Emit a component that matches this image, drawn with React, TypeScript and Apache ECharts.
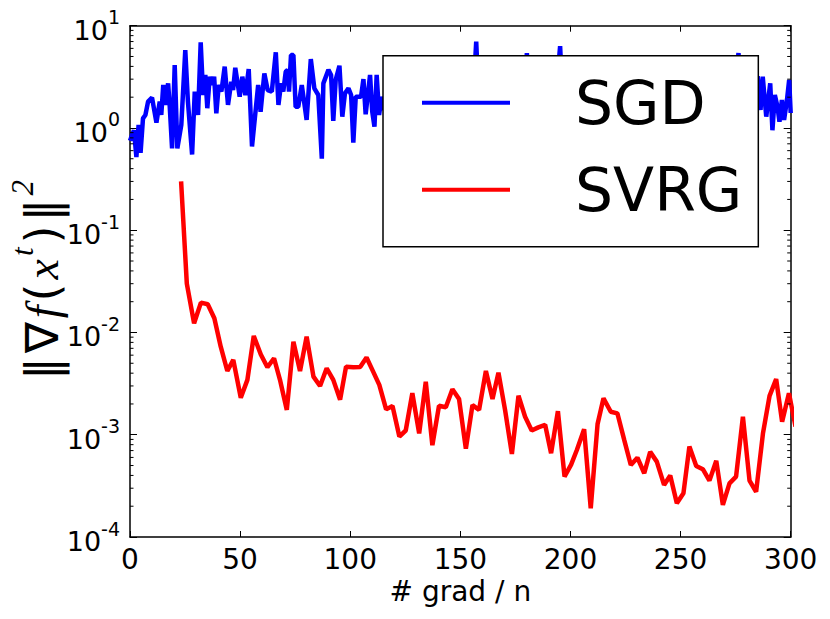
import React, { useEffect, useRef } from "react";
import * as echarts from "echarts";

// ---- data ----
const X_MIN = 0;
const X_MAX = 300;
const X_TICK_STEP = 50;
const Y_MIN = 1e-4;
const Y_MAX = 10;

const seriesNames = ["SGD", "SVRG"];
const seriesColors = ["#0000ff", "#ff0000"];

const sgdX = [
  0, 0.9, 1.8, 2.9, 3.9, 4.8, 5.9, 7.0, 8.2, 10, 12, 13.5, 14.2, 15.1, 16, 17.3, 18, 19.1, 20.3, 21.5,
  23.3, 25.1, 26.3, 28.2, 29.4, 30.9, 32.1, 33.2, 34.2, 35.1, 36.2, 37.2, 38.2, 39.2, 40.3, 41.5, 43,
  44.5, 46, 46.8, 47.8, 49.8, 51, 52.4, 53.9, 55.4, 58.2, 59.3, 61, 62.5, 64.4, 66.2, 67.4, 68.6, 69.6,
  70.7, 71.6, 72.2, 73.1, 74.2, 75.2, 76.4, 78, 80.2, 82.1, 83.7, 85.5, 87.1, 87.8, 90.1, 91.3, 92.3,
  93.4, 95.1, 96.4, 97.6, 99.2, 100.4, 101.4, 102.5, 104.9, 106, 107, 109, 110, 111, 112, 113.1, 114.3,
  115.5, 117, 118.5, 120, 121.5, 123, 124.5, 126, 127.5, 129, 130.5, 132, 133.5, 135, 136.5, 138,
  139.5, 141, 142.5, 144, 145.5, 147, 148.5, 150, 151.5, 153, 154.5, 156, 157.2, 158.5, 160, 161.5,
  163, 164.5, 166, 167.5, 169, 170.5, 172, 173.5, 175, 176.5, 178, 179, 180.2, 181.5, 183, 184.5, 186,
  187.5, 189, 190.5, 192, 193.5, 195.3, 196.5, 198, 199.5, 201, 202.5, 204, 205.5, 207, 208.5, 210,
  211.5, 213, 214.5, 216, 217.5, 219, 220.5, 222, 223.5, 225, 226.5, 228, 229.5, 231, 232.5, 234,
  235.5, 237, 238.5, 240, 241.5, 243, 244.5, 246, 247.5, 249, 250.5, 252, 253.5, 255, 256.5, 258,
  259.5, 261, 262.5, 264, 265.5, 267, 268.5, 270, 271.5, 273, 274.5, 276.3, 277.5, 279, 280.5, 282,
  283.5, 285, 286.3, 287.3, 288.9, 290.7, 291.7, 292.8, 294, 294.9, 296, 297, 298.3, 299.3, 300,
];
const sgdY = [
  0.75, 0.85, 0.95, 0.52, 1.07, 0.57, 1.24, 1.34, 1.81, 1.98, 1.13, 1.81, 1.34, 2.63, 1.68, 2.73, 1.68,
  0.63, 4.13, 0.63, 1.07, 5.78, 1.81, 0.55, 2.27, 1.34, 6.88, 2.1, 3.3, 1.56, 3.17, 2.63, 3.17, 1.39,
  2.63, 2.27, 3.98, 1.68, 2.83, 2.35, 3.88, 2.02, 3.17, 2.1, 3.77, 0.66, 2.63, 1.44, 3.42, 2.35, 2.27,
  5.5, 1.68, 2.73, 2.27, 3.55, 3.7, 2.27, 5.17, 5.17, 1.61, 1.61, 2.63, 1.2, 4.72, 2.44, 2.1, 0.5,
  2.73, 3.7, 3.3, 1.17, 2.95, 4.06, 1.29, 2.18, 2.44, 2.1, 0.72, 2.02, 2.02, 3.0, 1.36, 3.3, 1.44,
  1.03, 3.3, 1.34, 2.02,
  1.5, 2.6, 1.2, 2.2, 3.1, 1.6, 2.4, 1.1, 2.8, 2.0, 3.4, 1.4, 2.2, 1.8, 3.0, 1.3, 2.5, 0.9, 2.1, 3.2,
  1.7, 2.4, 1.2, 2.9, 1.9, 3.3, 1.5, 2.3, 7.0, 1.6, 2.6, 1.3, 2.2, 3.5, 1.8, 2.4, 1.0, 2.7, 1.6, 3.0,
  2.1, 1.4, 2.5, 1.7, 5.4, 1.9, 2.8, 1.2, 2.3, 3.4, 1.5, 2.6, 1.1, 2.2, 6.3, 1.8, 2.9, 1.4, 2.0, 3.1,
  1.6, 2.5, 0.8, 2.3, 3.6, 1.7, 2.4, 1.3, 2.8, 2.0, 3.2, 1.5, 2.2, 1.0, 2.6, 3.3, 1.8, 2.4, 1.2, 2.9,
  1.6, 3.0, 2.1, 1.4, 2.7, 1.1, 2.3, 3.5, 1.7, 2.5, 1.3, 2.0, 3.1, 1.5, 2.6, 0.9, 2.2, 3.0, 1.8, 2.4,
  1.2, 2.8, 2.0, 3.4, 1.4, 2.3, 1.7, 2.5, 5.4, 1.6, 2.4, 1.1, 2.7, 1.9, 3.2, 1.5,
  3.17, 1.29, 2.73, 0.95, 2.1, 1.61, 1.15, 1.88, 1.2, 1.88, 2.95, 1.4,
];

const svrgX = [
  23.2, 25.8, 29.1, 32.2, 35.3, 38.3, 41.2, 44.2, 46.9, 50.3, 53.3, 56.2, 59.4, 62.4, 65.4, 68.1, 71.2,
  74.2, 77.2, 80.2, 83.3, 86.3, 89.3, 92.3, 95.4, 98.1, 101.4, 104.5, 107.4, 110.2, 113.2, 116.3,
  119.2, 122.3, 125.2, 128.2, 131.3, 134.3, 137.3, 140.3, 143.4, 146.4, 149.4, 152.5, 155.5, 158.5,
  161.6, 164.6, 167.3, 170.3, 173.4, 176.4, 179.4, 182.4, 185.4, 188.5, 191.2, 194.3, 197.3, 200.3,
  202.9, 206.2, 209.2, 212.3, 215, 218.3, 221.3, 224.4, 227.4, 230.4, 233.5, 236.2, 239.2, 242.5,
  245.3, 248.3, 251.3, 254, 257.1, 260.1, 263.1, 266.2, 269.2, 272.2, 275.2, 278.3, 281.3, 284.3,
  287.4, 290.4, 293.4, 296.1, 299.2, 302.2,
];
const svrgY = [
  0.3, 0.03, 0.0123, 0.0196, 0.0189, 0.0138, 0.00727, 0.0042, 0.0054, 0.0023, 0.00344, 0.00925, 0.0061,
  0.00457, 0.0056, 0.00344, 0.00175, 0.0081, 0.0042, 0.0091, 0.0037, 0.003, 0.00447, 0.00344, 0.0022,
  0.00463, 0.00457, 0.0046, 0.0057, 0.00424, 0.00307, 0.00177, 0.00191, 0.00096, 0.0011, 0.00255,
  0.00103, 0.0033, 0.00079, 0.00192, 0.00186, 0.00279, 0.00224, 0.00073, 0.00195, 0.00175, 0.0042,
  0.00224, 0.00405, 0.00175, 0.00065, 0.00241, 0.0015, 0.0011, 0.00118, 0.00125, 0.00066, 0.0017,
  0.00039, 0.00051, 0.00071, 0.00113, 0.000191, 0.00127, 0.00227, 0.00168, 0.00162, 0.00089, 0.000506,
  0.000597, 0.00042, 0.00068, 0.000546, 0.000323, 0.0004, 0.000214, 0.000268, 0.000766, 0.000495,
  0.00046, 0.000356, 0.000557, 0.000206, 0.000335, 0.00039, 0.0015, 0.000356, 0.000277, 0.00103,
  0.0024, 0.0035, 0.00134, 0.00255, 0.0012,
];

// minor tick positions of the log axis: mantissa x 10^decade
const minorMantissas = [2, 3, 4, 5, 6, 7, 8, 9];
const minorDecades = [-4, -3, -2, -1, 0];

const xAxisTitle = "# grad / n";

const FONT = "DejaVu Sans";

export default function App() {
  const ref = useRef<HTMLDivElement>(null);

  useEffect(() => {
    if (!ref.current) return;
    const chart = echarts.init(ref.current, undefined, { renderer: "svg" });

    const minorTicks: number[][] = [];
    minorDecades.forEach((d) =>
      minorMantissas.forEach((m) => minorTicks.push([X_MIN, m * Math.pow(10, d)]))
    );

    const sgd = sgdX.map((x, i) => [x, sgdY[i]]);
    const svrg = svrgX.map((x, i) => [x, svrgY[i]]);

    const axisLine = { show: true, onZero: false, lineStyle: { color: "#000", width: 1.5 } };

    const mathBase = {
      fontSize: 46,
      lineHeight: 58,
      verticalAlign: "bottom",
      color: "#000",
      padding: [0, 2, 0, 2],
    };

    const option: any = {
      animation: false,
      backgroundColor: "#fff",
      grid: { left: 130, right: 39.3, top: 25.7, bottom: 82, containLabel: false },
      xAxis: [
        {
          type: "value",
          min: X_MIN,
          max: X_MAX,
          interval: X_TICK_STEP,
          position: "bottom",
          axisLine,
          axisTick: { show: true, inside: true, length: 6, lineStyle: { color: "#000", width: 1 } },
          splitLine: { show: false },
          axisLabel: { show: true, margin: 8, fontSize: 28, fontFamily: FONT, color: "#000" },
          name: xAxisTitle,
          nameLocation: "middle",
          nameGap: 39,
          nameTextStyle: { fontSize: 28, fontFamily: FONT, color: "#000" },
        },
        {
          type: "value",
          min: X_MIN,
          max: X_MAX,
          interval: X_TICK_STEP,
          position: "top",
          axisLine,
          axisTick: { show: true, inside: true, length: 6, lineStyle: { color: "#000", width: 1 } },
          splitLine: { show: false },
          axisLabel: { show: false },
        },
      ],
      yAxis: [
        {
          type: "log",
          logBase: 10,
          min: Y_MIN,
          max: Y_MAX,
          splitNumber: 5,
          position: "left",
          axisLine,
          axisTick: { show: true, inside: true, length: 7, lineStyle: { color: "#000", width: 1 } },
          splitLine: { show: false },
          axisLabel: {
            show: true,
            margin: 10,
            formatter: (v: number) => "{b|10}{e|" + Math.round(Math.log10(v)) + "}",
            rich: {
              b: { fontSize: 27, lineHeight: 36, verticalAlign: "bottom", fontFamily: FONT, color: "#000" },
              e: { fontSize: 19, lineHeight: 19, verticalAlign: "top", fontFamily: FONT, color: "#000" },
            },
          },
        },
        {
          type: "log",
          logBase: 10,
          min: Y_MIN,
          max: Y_MAX,
          splitNumber: 5,
          position: "right",
          axisLine,
          axisTick: { show: true, inside: true, length: 7, lineStyle: { color: "#000", width: 1 } },
          splitLine: { show: false },
          axisLabel: { show: false },
        },
      ],
      legend: {
        data: seriesNames,
        orient: "vertical",
        left: 383,
        top: 55.7,
        padding: [17, 16, 27, 39],
        itemWidth: 88,
        itemHeight: 4,
        itemGap: 27,
        icon: "rect",
        backgroundColor: "#fff",
        borderColor: "#000",
        borderWidth: 1.5,
        borderRadius: 0,
        selectedMode: false,
        textStyle: { fontSize: 60, lineHeight: 60, fontFamily: FONT, color: "#000", padding: [0, 0, 0, 60] },
      },
      graphic: [
        {
          type: "text",
          x: 36,
          y: 280,
          rotation: Math.PI / 2,
          style: {
            text: "{a|‖}{a|∇}{i|f}{a|(}{i|x}{s|t}{a|)}{a|‖}{s|2}",
            align: "center",
            verticalAlign: "middle",
            rich: {
              a: { ...mathBase, fontFamily: "DejaVu Sans" },
              i: { ...mathBase, fontFamily: "Liberation Serif", fontStyle: "italic" },
              s: {
                fontSize: 31,
                lineHeight: 31,
                verticalAlign: "top",
                fontFamily: "Liberation Serif",
                fontStyle: "italic",
                color: "#000",
                padding: [0, 2, 0, 1],
              },
            },
          },
        },
      ],
      series: [
        {
          name: seriesNames[0],
          type: "line",
          data: sgd,
          xAxisIndex: 0,
          yAxisIndex: 0,
          showSymbol: false,
          symbol: "none",
          color: seriesColors[0],
          lineStyle: { color: seriesColors[0], width: 4.5 },
          z: 2,
        },
        {
          name: seriesNames[1],
          type: "line",
          data: svrg,
          xAxisIndex: 0,
          yAxisIndex: 0,
          showSymbol: false,
          symbol: "none",
          color: seriesColors[1],
          lineStyle: { color: seriesColors[1], width: 4.5 },
          z: 3,
        },
        {
          name: "minorTicks",
          type: "custom",
          coordinateSystem: "cartesian2d",
          xAxisIndex: 0,
          yAxisIndex: 0,
          silent: true,
          clip: false,
          data: minorTicks,
          z: 5,
          renderItem: (_p: any, api: any) => {
            const v = api.value(1);
            const l = api.coord([X_MIN, v]);
            const r = api.coord([X_MAX, v]);
            return {
              type: "group",
              children: [
                { type: "line", shape: { x1: l[0], y1: l[1], x2: l[0] + 3.5, y2: l[1] }, style: { stroke: "#000", lineWidth: 1 } },
                { type: "line", shape: { x1: r[0], y1: r[1], x2: r[0] - 3.5, y2: r[1] }, style: { stroke: "#000", lineWidth: 1 } },
              ],
            };
          },
        },
      ],
    };

    chart.setOption(option);
    return () => chart.dispose();
  }, []);

  return (
    <div
      ref={ref}
      style={{ position: "absolute", left: 0, top: 0, width: 830, height: 619, background: "#fff" }}
    />
  );
}
